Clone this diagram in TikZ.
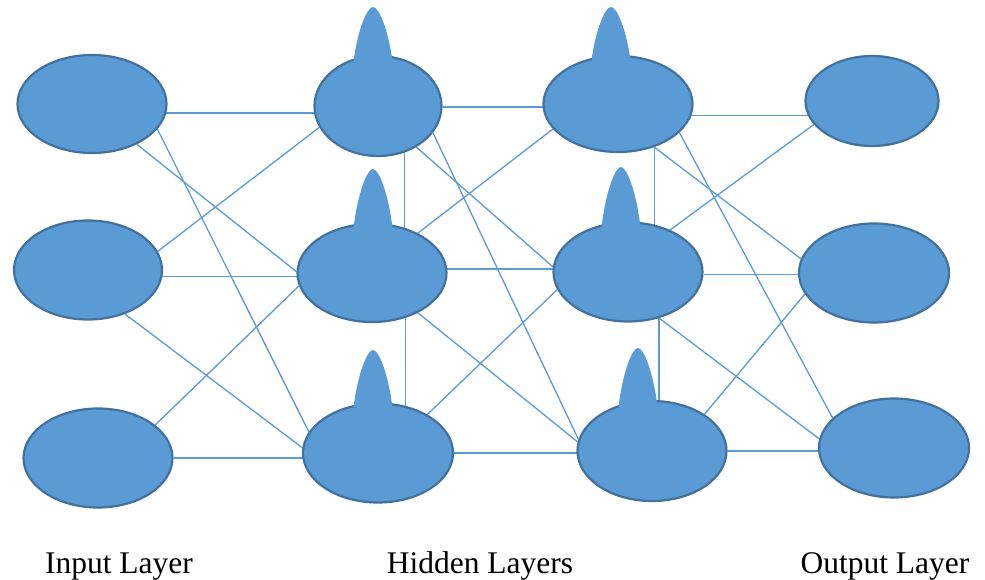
\documentclass[tikz,border=0pt]{standalone}
\usepackage{fontspec}
\setmainfont{Liberation Serif}
\usetikzlibrary{shapes.geometric,backgrounds}

\definecolor{cellfill}{HTML}{5B9BD5}
\definecolor{celledge}{HTML}{41719C}
\definecolor{wirecol}{HTML}{5B9BD5}

% Tall rounded bump on top of a hidden-layer cell:
% #1 = x of its axis, #2 = y of its base, #3 = its height
\newcommand\nodebump[3]{%
  \fill[cellfill] ({#1-19},{#2+7}) -- ({#1-19},{#2})
    .. controls ({#1-15},{#2-0.55*#3}) and ({#1-6},{#2-#3}) .. ({#1},{#2-#3})
    .. controls ({#1+6},{#2-#3}) and ({#1+15},{#2-0.55*#3}) .. ({#1+19},{#2})
    -- ({#1+19},{#2+7}) -- cycle;}

\begin{document}
\begin{tikzpicture}[x=1pt,y=-1pt,
  cell/.style={ellipse, fill=cellfill, draw=celledge, line width=2.2pt, inner sep=0pt},
  wire/.style={draw=wirecol, line width=1.3pt},
  caption/.style={anchor=base, inner sep=0pt, font=\fontsize{31.5}{36}\selectfont}]

\useasboundingbox (0,0) rectangle (985,580);

% input layer
\node[cell, minimum width=149pt, minimum height=98pt] (I1) at (92,104) {};
\node[cell, minimum width=148pt, minimum height=99pt] (I2) at (88,270) {};
\node[cell, minimum width=149pt, minimum height=99pt] (I3) at (98,458) {};
% first hidden layer
\node[cell, minimum width=127pt, minimum height=100pt] (H1) at (378,106) {};
\node[cell, minimum width=149pt, minimum height=98pt] (H2) at (372,273) {};
\node[cell, minimum width=150pt, minimum height=99pt] (H3) at (378,453) {};
% second hidden layer
\node[cell, minimum width=149pt, minimum height=96pt] (G1) at (618,104) {};
\node[cell, minimum width=149pt, minimum height=99pt] (G2) at (628,272) {};
\node[cell, minimum width=149pt, minimum height=100pt] (G3) at (652,451) {};
% output layer
\node[cell, minimum width=133pt, minimum height=90pt] (O1) at (872,101) {};
\node[cell, minimum width=150pt, minimum height=99pt] (O2) at (874,273) {};
\node[cell, minimum width=150pt, minimum height=99pt] (O3) at (894,448) {};

% bumps on the hidden cells
\nodebump{373}{58}{51}
\nodebump{611}{57}{50}
\nodebump{373}{224}{55}
\nodebump{621}{223}{56}
\nodebump{373}{404}{54}
\nodebump{638}{403}{55}

% captions
\node[caption] (capin) at (119,573) {Input Layer};
\node[caption] (caphid) at (480,573) {Hidden Layers};
\node[caption] (capout) at (885,573) {Output Layer};

\begin{scope}[on background layer]
  \fill[white] (0,0) rectangle (985,580);
  % input -> first hidden
  \draw[wire] (I1.-7.5) -- (I1.-7.5 -| H1.center);
  \draw[wire] (I1.-21.8) -- (H3.163.3);
  \draw[wire] (I1.-42.3) -- (H2.179.2);
  \draw[wire] (I2.15.9) -- (H1.200.1);
  \draw[wire] (I2.-5.3) -- (I2.-5.3 -| H2.center);
  \draw[wire] (I2.-50.9) -- (H3.176.2);
  \draw[wire] (I3.30.4) -- (H2.190.9);
  \draw[wire] (I3.0) -- (I3.0 -| H3.center);
  % first hidden -> second hidden
  \draw[wire] (H1.-1) -- (H1.-1 -| G1.center);
  \draw[wire] (H1.-60.1) -- (H1.-60.1 |- H2.center);
  \draw[wire] (H1.-47.1) -- (G2.176.2);
  \draw[wire] (H1.-26.1) -- (G3.171.5);
  \draw[wire] (H2.3) -- (H2.3 -| G2.center);
  \draw[wire] (H2.41.7) -- (G1.201.8);
  \draw[wire] (H2.-41.6) -- (G3.173.9);
  \draw[wire] (H2.-53.7) -- (H2.-53.7 |- H3.center);
  \draw[wire] (H3.0) -- (H3.0 -| G3.center);
  \draw[wire] (H3.38.7) -- (G2.194.2);
  % second hidden -> output
  \draw[wire] (G1.-9.8) -- (G1.-9.8 -| O1.center);
  \draw[wire] (G1.-50) -- (G1.-50 |- G2.center);
  \draw[wire] (G1.-25.1) -- (O3.154.2);
  \draw[wire] (G1.-50) -- (O2.169.8);
  \draw[wire] (G2.-2.3) -- (G2.-2.3 -| O2.center);
  \draw[wire] (G2.45) -- (O1.202.1);
  \draw[wire] (G2.-56) -- (O3.173.8);
  \draw[wire] (G2.-56) -- (G2.-56 |- G3.center);
  \draw[wire] (G3.0) -- (G3.0 -| O3.center);
  \draw[wire] (G3.35.6) -- (O2.197.2);
\end{scope}
\end{tikzpicture}
\end{document}
